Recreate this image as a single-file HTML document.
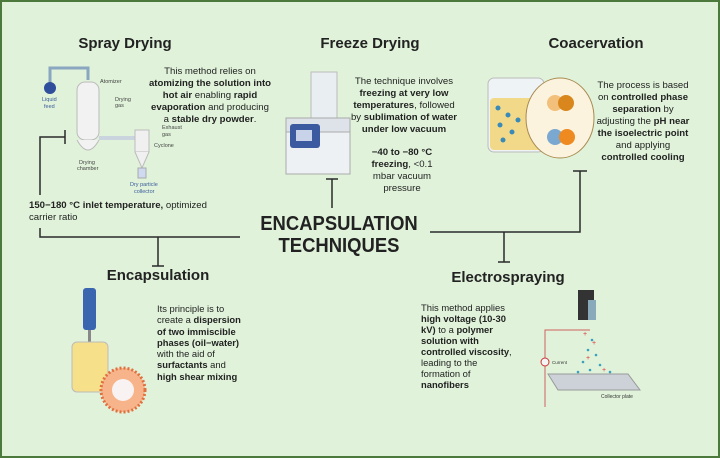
<!DOCTYPE html>
<html><head><meta charset="utf-8"><style>
*{margin:0;padding:0;box-sizing:border-box}
body{width:720px;height:458px;overflow:hidden;background:#fff;font-family:"Liberation Sans",sans-serif;color:#1e1e1e}
#f{position:absolute;left:0;top:0;width:720px;height:458px;background:#e0f3da;border:2px solid #4c7a3c}
.t{position:absolute;font-weight:bold;font-size:15px;white-space:nowrap;transform:translateX(-50%);color:#222}
.p{position:absolute;font-size:9.6px;line-height:12px;color:#222}
.c{text-align:center;transform:translateX(-50%);white-space:nowrap}
b{font-weight:bold}
.big{position:absolute;left:339px;top:213px;transform:translateX(-50%) scaleX(0.9);font-weight:bold;font-size:20.5px;line-height:22px;text-align:center;white-space:nowrap;color:#222}
</style></head><body><div id="f"></div>
<svg width="720" height="458" style="position:absolute;left:0;top:0">
<g stroke="#2a2a2a" stroke-width="1.5" fill="none">
<polyline points="40,195 40,137 65,137"/><line x1="65" y1="130" x2="65" y2="144"/>
<polyline points="40,228 40,237 240,237"/><line x1="158" y1="237" x2="158" y2="266"/><line x1="152" y1="266" x2="164" y2="266"/>
<line x1="332" y1="179" x2="332" y2="208"/><line x1="326" y1="179" x2="338" y2="179"/>
<polyline points="430,232 580,232 580,171"/><line x1="573" y1="171" x2="587" y2="171"/>
<line x1="504" y1="232" x2="504" y2="262"/><line x1="498" y1="262" x2="510" y2="262"/>
</g>
<g>
<path d="M50 86 V68 H88 V80" stroke="#8aa6c0" stroke-width="3" fill="none"/>
<circle cx="50" cy="88" r="6" fill="#2f4e9c"/>
<rect x="77" y="82" width="22" height="58" rx="8" fill="#f2f2f2" stroke="#bbb"/>
<path d="M77 140 Q88 160 99 140" fill="#f2f2f2" stroke="#bbb"/>
<path d="M99 138 H140" stroke="#c9d4de" stroke-width="4"/>
<rect x="135" y="130" width="14" height="22" fill="#f0f0f0" stroke="#bbb"/>
<path d="M135 152 L142 168 L149 152" fill="#f0f0f0" stroke="#bbb"/>
<rect x="138" y="168" width="8" height="10" fill="#cfd9f0" stroke="#aaa"/>
</g>
<g font-size="5.5" fill="#444" font-family="Liberation Sans">
<text x="100" y="83">Atomizer</text><text x="115" y="101">Drying</text><text x="115" y="107">gas</text>
<text x="42" y="101" fill="#3a5a9a">Liquid</text><text x="44" y="108" fill="#3a5a9a">feed</text>
<text x="79" y="164">Drying</text><text x="77" y="170">chamber</text>
<text x="162" y="129">Exhaust</text><text x="162" y="136">gas</text><text x="154" y="147">Cyclone</text>
<text x="130" y="186" fill="#3a5a9a">Dry particle</text><text x="134" y="193" fill="#3a5a9a">collector</text>
</g>
<g>
<rect x="311" y="72" width="26" height="46" fill="#e8eef2" stroke="#bbb"/>
<rect x="286" y="118" width="64" height="14" fill="#dde3e8" stroke="#aaa"/>
<rect x="286" y="132" width="64" height="42" fill="#eef1f4" stroke="#aaa"/>
<rect x="290" y="124" width="30" height="24" rx="3" fill="#3c5aa0"/>
<rect x="296" y="130" width="16" height="11" fill="#c8d2e8"/>
</g>
<g>
<rect x="488" y="78" width="56" height="74" rx="6" fill="#eef3f6" stroke="#bbb"/>
<rect x="490" y="98" width="52" height="52" rx="4" fill="#f2d98a"/>
<g fill="#3a8ab8"><circle cx="498" cy="108" r="2.5"/><circle cx="508" cy="115" r="2.5"/><circle cx="500" cy="125" r="2.5"/><circle cx="512" cy="132" r="2.5"/><circle cx="503" cy="140" r="2.5"/><circle cx="518" cy="120" r="2.5"/></g>
<ellipse cx="560" cy="118" rx="34" ry="40" fill="#fbf3dd" stroke="#a88a50"/>
<circle cx="555" cy="103" r="8" fill="#f2c07a"/><circle cx="566" cy="103" r="8" fill="#d9861c"/>
<circle cx="555" cy="137" r="8" fill="#7aa8d0"/><circle cx="567" cy="137" r="8" fill="#ee8a20"/>
</g>
<g>
<rect x="83" y="288" width="13" height="42" rx="3" fill="#3a66b0"/>
<rect x="88" y="330" width="3" height="40" fill="#888"/>
<rect x="72" y="342" width="36" height="50" rx="5" fill="#f6e08a" stroke="#bbb"/>
<circle cx="123" cy="390" r="22" fill="#f7b48a" stroke="#e07040" stroke-width="3" stroke-dasharray="2 2"/>
<circle cx="123" cy="390" r="11" fill="#f8f2f2"/>
</g>
<g>
<rect x="578" y="290" width="16" height="30" fill="#333"/>
<rect x="588" y="300" width="8" height="20" fill="#8ab"/>
<path d="M548 374 L628 374 L640 390 L558 390 Z" fill="#cdd2d8" stroke="#999"/>
<path d="M590 330 H545 V407" stroke="#d06060" fill="none"/>
<circle cx="545" cy="362" r="4" fill="#f4f4f4" stroke="#c33"/>
<g fill="#3aa0c0"><circle cx="592" cy="340" r="1.3"/><circle cx="588" cy="350" r="1.3"/><circle cx="596" cy="355" r="1.3"/><circle cx="583" cy="362" r="1.3"/><circle cx="600" cy="365" r="1.3"/><circle cx="590" cy="370" r="1.3"/><circle cx="610" cy="372" r="1.3"/><circle cx="578" cy="372" r="1.3"/></g>
<g fill="#d33" font-size="7"><text x="583" y="336">+</text><text x="592" y="345">+</text><text x="586" y="360">+</text><text x="602" y="372">+</text></g>
<text x="601" y="398" font-size="5" fill="#333">Collector plate</text>
<text x="552" y="364" font-size="4.5" fill="#333">Current</text>
</g>
</svg>
<div class="t" style="left:125px;top:35px">Spray Drying</div>
<div class="t" style="left:370px;top:35px">Freeze Drying</div>
<div class="t" style="left:596px;top:35px">Coacervation</div>
<div class="t" style="left:158px;top:267px">Encapsulation</div>
<div class="t" style="left:508px;top:269px">Electrospraying</div>
<div class="big">ENCAPSULATION<br>TECHNIQUES</div>
<div class="p c" style="left:210px;top:66px">This method relies on<br><b>atomizing the solution into<br>hot air</b> enabling <b>rapid<br>evaporation</b> and producing<br>a <b>stable dry powder</b>.</div>
<div class="p c" style="left:404px;top:76px">The technique involves<br><b>freezing at very low<br>temperatures</b>, followed<br>by <b>sublimation of water<br>under low vacuum</b></div>
<div class="p c" style="left:402px;top:147px"><b>−40 to −80 °C<br>freezing</b>, &lt;0.1<br>mbar vacuum<br>pressure</div>
<div class="p c" style="left:643px;top:80px">The process is based<br>on <b>controlled phase<br>separation</b> by<br>adjusting the <b>pH near<br>the isoelectric point</b><br>and applying<br><b>controlled cooling</b></div>
<div class="p" style="left:29px;top:200px"><b>150−180 °C inlet temperature,</b> optimized<br>carrier ratio</div>
<div class="p" style="left:157px;top:303px;font-size:9.4px;line-height:11.3px">Its principle is to<br>create a <b>dispersion<br>of two immiscible<br>phases (oil−water)</b><br>with the aid of<br><b>surfactants</b> and<br><b>high shear mixing</b></div>
<div class="p" style="left:421px;top:302px;font-size:9.4px;line-height:11px">This method applies<br><b>high voltage (10-30<br>kV)</b> to a <b>polymer<br>solution with<br>controlled viscosity</b>,<br>leading to the<br>formation of<br><b>nanofibers</b></div>
</body></html>
